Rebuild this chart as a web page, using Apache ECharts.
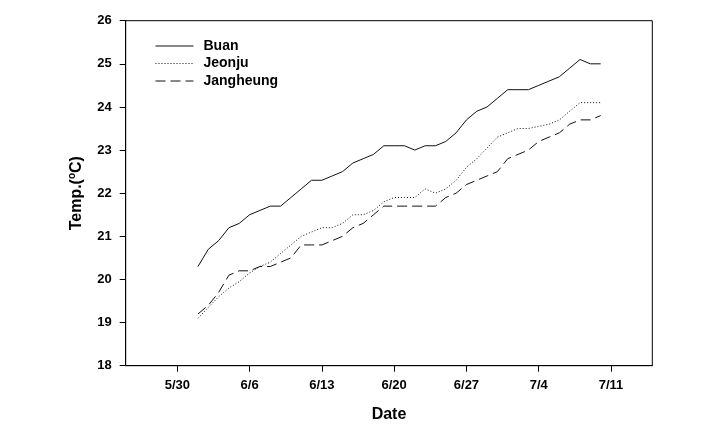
<!DOCTYPE html>
<html>
<head>
<meta charset="utf-8">
<script src="https://cdn.jsdelivr.net/npm/echarts@6/dist/echarts.min.js"></script>
<style>
html,body{margin:0;padding:0;background:#fff;}
#chart{width:714px;height:438px;}
</style>
</head>
<body>
<div id="chart"></div>
<script>
// Axis span (first and last day shown) and tick labels
var axisStart = [5, 25];
var axisDays = 52;
var tickLabels = ['5/30', '6/6', '6/13', '6/20', '6/27', '7/4', '7/11'];
// Observation dates: 6/1 to 7/10 (daily)
var dataStart = [6, 1];
var dataDays = 40;

var buan = [20.3, 20.7, 20.9, 21.2, 21.3, 21.5, 21.6, 21.7, 21.7, 21.9,
            22.1, 22.3, 22.3, 22.4, 22.5, 22.7, 22.8, 22.9, 23.1, 23.1,
            23.1, 23.0, 23.1, 23.1, 23.2, 23.4, 23.7, 23.9, 24.0, 24.2,
            24.4, 24.4, 24.4, 24.5, 24.6, 24.7, 24.9, 25.1, 25.0, 25.0];
var jeonju = [19.1, 19.35, 19.6, 19.8, 19.95, 20.15, 20.3, 20.4, 20.6, 20.8,
              21.0, 21.1, 21.2, 21.2, 21.3, 21.5, 21.5, 21.6, 21.8, 21.9,
              21.9, 21.9, 22.1, 22.0, 22.1, 22.3, 22.6, 22.8, 23.05, 23.3,
              23.4, 23.5, 23.5, 23.55, 23.6, 23.7, 23.9, 24.1, 24.1, 24.1];
var jangheung = [19.2, 19.4, 19.7, 20.1, 20.2, 20.2, 20.3, 20.3, 20.4, 20.5,
                 20.8, 20.8, 20.8, 20.9, 21.0, 21.2, 21.3, 21.5, 21.7, 21.7,
                 21.7, 21.7, 21.7, 21.7, 21.9, 22.0, 22.2, 22.3, 22.4, 22.5,
                 22.8, 22.9, 23.0, 23.2, 23.3, 23.4, 23.6, 23.7, 23.7, 23.8];

function dayList(start, n) {
  var out = [];
  var d = new Date(2001, start[0] - 1, start[1]);
  for (var i = 0; i < n; i++) {
    out.push((d.getMonth() + 1) + '/' + d.getDate());
    d.setDate(d.getDate() + 1);
  }
  return out;
}
var categories = dayList(axisStart, axisDays);
var dataDates = dayList(dataStart, dataDays);
function pairs(vals) {
  return vals.map(function (v, i) { return [dataDates[i], v]; });
}

var FONT = '"Liberation Sans", Arial, sans-serif';
var chart = echarts.init(document.getElementById('chart'), null, {renderer: 'canvas'});
var tickFn = function (idx, val) { return tickLabels.indexOf(val) >= 0; };

chart.setOption({
  animation: false,
  backgroundColor: '#fff',
  grid: {
    left: 125.7, right: 61.7, top: 20.7, bottom: 72.3,
    show: true, borderColor: '#000', borderWidth: 1, backgroundColor: 'transparent'
  },
  legend: {
    orient: 'vertical',
    left: 155, top: 39,
    padding: 0,
    itemWidth: 38, itemHeight: 14, itemGap: 3.5,
    itemStyle: {opacity: 0, borderWidth: 0},
    lineStyle: {width: 1},
    textStyle: {fontFamily: FONT, fontSize: 14, fontWeight: 'bold', color: '#000', padding: [0, 0, 0, 5]},
    data: ['Buan', 'Jeonju', 'Jangheung']
  },
  xAxis: {
    type: 'category',
    data: categories,
    boundaryGap: false,
    name: 'Date',
    nameLocation: 'middle',
    nameGap: 41,
    nameTextStyle: {fontFamily: FONT, fontSize: 16, fontWeight: 'bold', color: '#000'},
    axisLine: {lineStyle: {color: '#000', width: 1}},
    axisTick: {show: true, inside: false, length: 6, interval: tickFn, lineStyle: {color: '#000'}},
    axisLabel: {interval: tickFn, margin: 13, fontFamily: FONT, fontSize: 13, fontWeight: 'bold', color: '#000'},
    splitLine: {show: false}
  },
  yAxis: {
    type: 'value',
    min: 18, max: 26, interval: 1,
    name: 'Temp.({sup|o}C)',
    nameLocation: 'middle',
    nameGap: 40,
    nameTextStyle: {
      fontFamily: FONT, fontSize: 16, fontWeight: 'bold', color: '#000',
      rich: {sup: {fontFamily: FONT, fontSize: 10, fontWeight: 'bold', color: '#000', padding: [0, 0, 8, 0]}}
    },
    axisLine: {show: true, lineStyle: {color: '#000', width: 1}},
    axisTick: {show: true, inside: false, length: 6, lineStyle: {color: '#000'}},
    axisLabel: {margin: 14, fontFamily: FONT, fontSize: 13, fontWeight: 'bold', color: '#000'},
    splitLine: {show: false}
  },
  series: [
    {name: 'Buan', type: 'line', symbol: 'none', data: pairs(buan),
     lineStyle: {color: '#111', width: 1, type: 'solid'}, itemStyle: {color: '#111'}},
    {name: 'Jeonju', type: 'line', symbol: 'none', data: pairs(jeonju),
     lineStyle: {color: '#111', width: 1, type: [1, 2]}, itemStyle: {color: '#111'}},
    {name: 'Jangheung', type: 'line', symbol: 'none', data: pairs(jangheung),
     lineStyle: {color: '#111', width: 1, type: [10, 5]}, itemStyle: {color: '#111'}}
  ]
});
</script>
</body>
</html>
